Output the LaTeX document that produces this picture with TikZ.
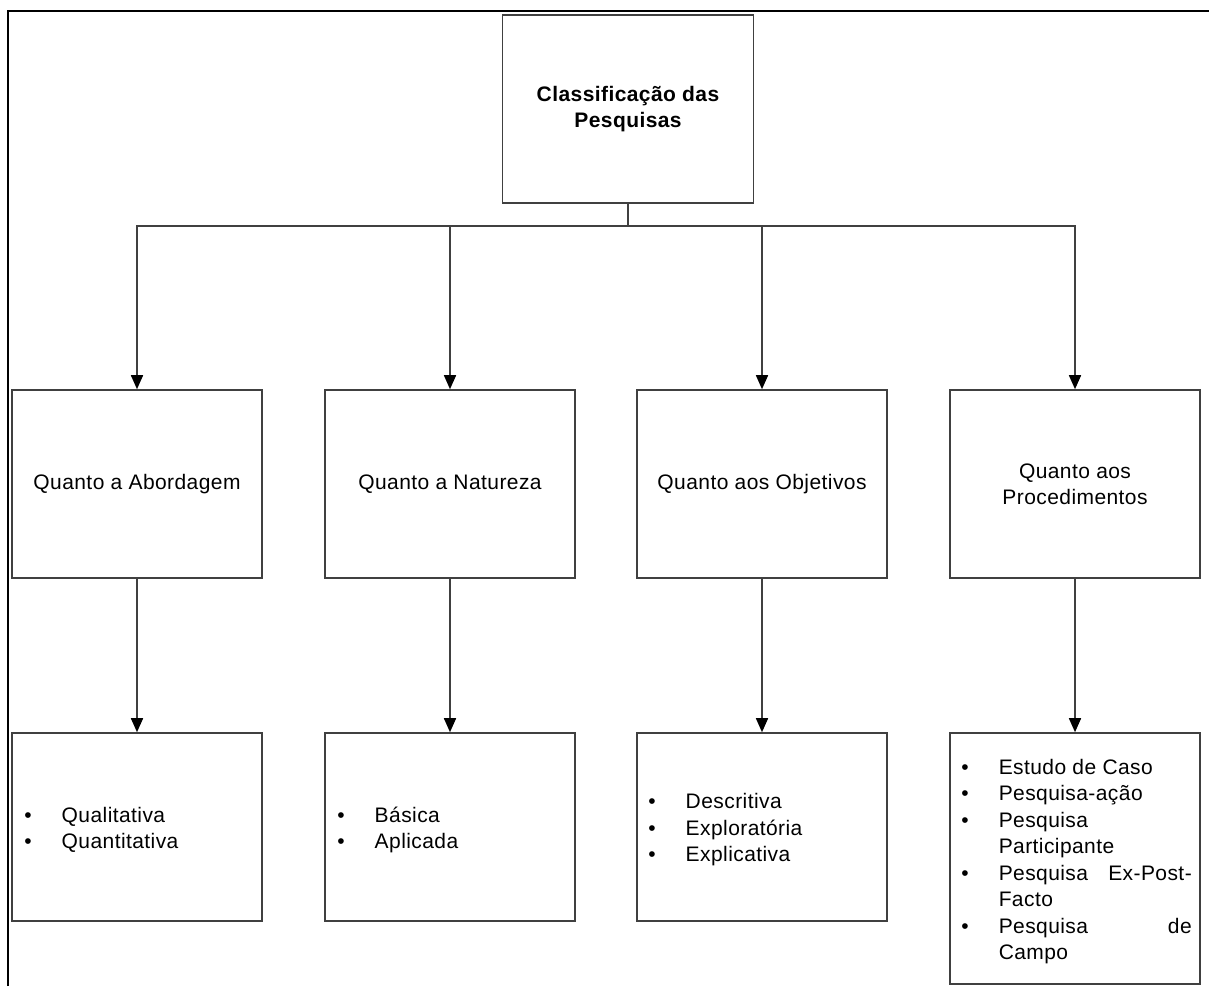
\documentclass[tikz,border=0pt]{standalone}
\usepackage{fontspec}
\setmainfont[LetterSpace=2]{Liberation Sans}
\usepackage{array}
\usetikzlibrary{arrows.meta}
\begin{document}
\begin{tikzpicture}[x=1pt,y=-1pt,
  box/.style={draw=black!75, line width=1.6pt, minimum width=250pt, minimum height=188pt,
    inner sep=0pt, font=\fontsize{21}{26}\selectfont, align=center},
  conn/.style={draw=black!75, line width=1.6pt},
  arr/.style={-{Triangle[width=12pt,length=14pt,color=black]}},
  list/.style={anchor=west, inner sep=0pt, font=\fontsize{21}{26.5}\selectfont}]
\useasboundingbox (0,0) rectangle (1209,986);
\draw[line width=2pt] (8,986) -- (8,11) -- (1209,11);
% boxes
\node[box, minimum width=251pt] (top) at (628,109) {\bfseries Classificação das\\\bfseries Pesquisas};
\node[box] (m1) at (137,484) {Quanto a Abordagem};
\node[box] (m2) at (450,484) {Quanto a Natureza};
\node[box] (m3) at (762,484) {Quanto aos Objetivos};
\node[box] (m4) at (1075,484) {Quanto aos\\Procedimentos};
\node[box] (b1) at (137,827) {};
\node[box] (b2) at (450,827) {};
\node[box] (b3) at (762,827) {};
\node[box, minimum height=251pt] (b4) at (1075,858.5) {};
% lists
\node[list] (l1) at ([xshift=13pt,yshift=-3pt]b1.west) {\begin{tabular}{@{}l@{\hspace{30pt}}l@{}}
• & Qualitativa\\
• & Quantitativa
\end{tabular}};
\node[list] (l2) at ([xshift=13pt,yshift=-3pt]b2.west) {\begin{tabular}{@{}l@{\hspace{30pt}}l@{}}
• & Básica\\
• & Aplicada
\end{tabular}};
\node[list] (l3) at ([xshift=12pt,yshift=-3pt]b3.west) {\begin{tabular}{@{}l@{\hspace{30pt}}l@{}}
• & Descritiva\\
• & Exploratória\\
• & Explicativa
\end{tabular}};
\node[list] (l4) at ([xshift=12pt,yshift=-3pt]b4.west) {\begin{tabular}{@{}l@{\hspace{30pt}}p{193pt}@{}}
• & Estudo de Caso\\
• & Pesquisa-ação\\
• & Pesquisa\newline Participante\\
• & Pesquisa\hfill Ex-Post-\newline Facto\\
• & Pesquisa\hfill de\newline Campo
\end{tabular}};
% connectors
\coordinate (bus) at (628,226);
\draw[conn] (top.south) -- (bus);
\foreach \m in {m1,m2,m3,m4} \draw[conn,arr] (bus) -| (\m.north);
\draw[conn,arr] (m1.south) -- (b1.north);
\draw[conn,arr] (m2.south) -- (b2.north);
\draw[conn,arr] (m3.south) -- (b3.north);
\draw[conn,arr] (m4.south) -- (b4.north);
\end{tikzpicture}
\end{document}
